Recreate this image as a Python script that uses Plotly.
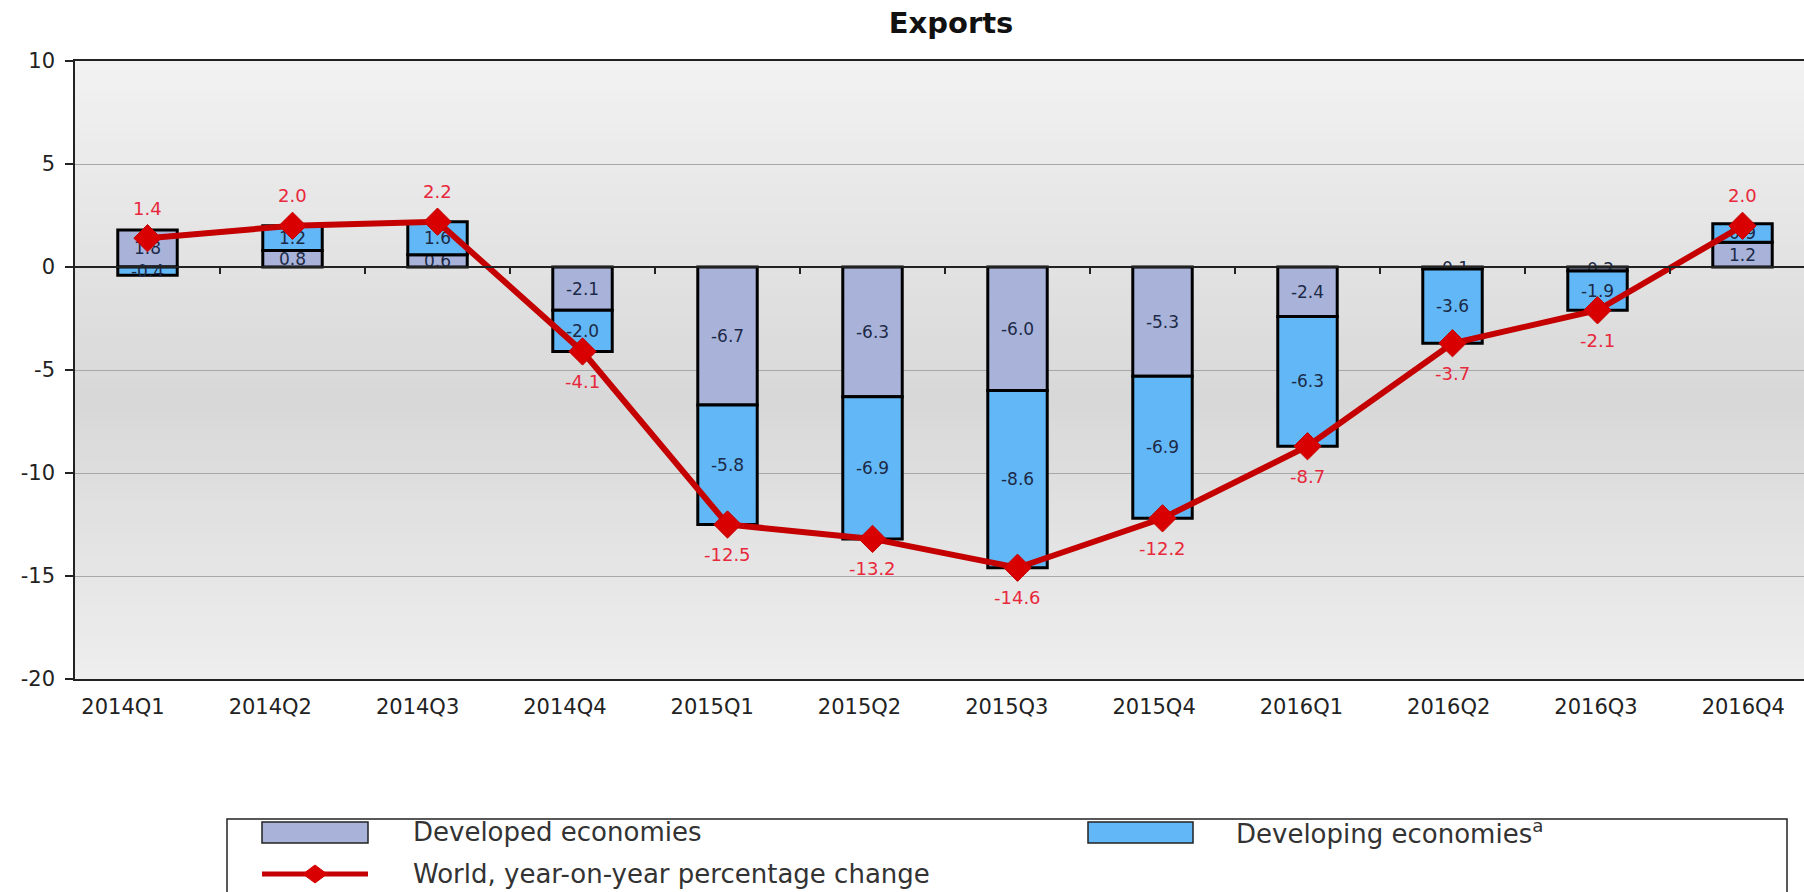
import plotly.graph_objects as go

# Quarterly export growth, percentage-point contributions
quarters = ["2014Q1", "2014Q2", "2014Q3", "2014Q4",
            "2015Q1", "2015Q2", "2015Q3", "2015Q4",
            "2016Q1", "2016Q2", "2016Q3", "2016Q4"]
developed = [1.8, 0.8, 0.6, -2.1, -6.7, -6.3, -6.0, -5.3, -2.4, -0.1, -0.2, 1.2]
developing = [-0.4, 1.2, 1.6, -2.0, -5.8, -6.9, -8.6, -6.9, -6.3, -3.6, -1.9, 0.9]
world = [1.4, 2.0, 2.2, -4.1, -12.5, -13.2, -14.6, -12.2, -8.7, -3.7, -2.1, 2.0]
y_ticks = [10, 5, 0, -5, -10, -15, -20]
y_tick_text = ["10", "5", "0", "-5", "-10", "-15", "-20"]

W, H = 1804, 892
L, T, B = 75, 61, 213          # plot margins in pixels
PLOT_W = W - L
PLOT_H = H - T - B
CAT_W = 145                    # pixel width of one quarter (bars)
LABEL_W = 147.3                # pixel spacing of the quarter labels
LABEL_X0 = 123                 # pixel centre of the first quarter label

FONT = "DejaVu Sans"
LABEL_DARK = "#1c2a48"
RED_TEXT = "#e8283c"
DEV_COLOR = "#a9b3d9"
DEVING_COLOR = "#62b8f7"


def px_x(px):
    return (px - L) / PLOT_W


def px_y(py):
    return (H - B - py) / PLOT_H


fig = go.Figure()

fig.add_trace(go.Bar(
    x=quarters, y=developed, name="Developed economies",
    marker=dict(color=DEV_COLOR, line=dict(color="black", width=3)),
    width=0.41, texttemplate="%{y:.1f}", textposition="inside",
    insidetextanchor="middle",
    textfont=dict(family=FONT, size=17, color=LABEL_DARK),
    showlegend=False, hoverinfo="skip",
))
fig.add_trace(go.Bar(
    x=quarters, y=developing, name="Developing economiesᵃ",
    marker=dict(color=DEVING_COLOR, line=dict(color="black", width=3)),
    width=0.41, texttemplate="%{y:.1f}", textposition="inside",
    insidetextanchor="middle",
    textfont=dict(family=FONT, size=17, color=LABEL_DARK),
    showlegend=False, hoverinfo="skip",
))
fig.add_trace(go.Scatter(
    x=quarters, y=world, name="World, year-on-year percentage change",
    mode="lines+markers",
    line=dict(color="#c40000", width=6),
    marker=dict(symbol="diamond", size=21, color="#d80000",
                line=dict(color="#c40000", width=1)),
    showlegend=False, hoverinfo="skip",
))
# invisible anchors for the zero-line tick axis and the label axis
fig.add_trace(go.Scatter(
    x=[0], y=[0], xaxis="x2", mode="markers",
    marker=dict(opacity=0), showlegend=False, hoverinfo="skip",
))
fig.add_trace(go.Scatter(
    x=[quarters[0]], y=[0], xaxis="x3", mode="markers",
    marker=dict(opacity=0), showlegend=False, hoverinfo="skip",
))

# world value labels
for q, v in zip(quarters, world):
    fig.add_annotation(
        x=q, y=v, text=f"{v:.1f}", showarrow=False,
        yshift=30 if v >= 0 else -30,
        font=dict(family=FONT, size=18, color=RED_TEXT),
    )

# plot-area background gradient
stops = [(0.0, (242, 242, 242)), (0.55, (216, 216, 216)), (1.0, (238, 238, 238))]
n_bands = 60


def shade(t):
    for (t0, c0), (t1, c1) in zip(stops[:-1], stops[1:]):
        if t0 <= t <= t1:
            f = (t - t0) / (t1 - t0)
            return tuple(round(a + (b - a) * f) for a, b in zip(c0, c1))
    return stops[-1][1]


for i in range(n_bands):
    top = 1 - i / n_bands
    bot = 1 - (i + 1) / n_bands
    r, g, b = shade((i + 0.5) / n_bands)
    fig.add_shape(type="rect", xref="paper", yref="paper",
                  x0=0, x1=1, y0=bot, y1=top + 0.002,
                  fillcolor=f"rgb({r},{g},{b})", line=dict(width=0),
                  layer="below")

# legend box
fig.add_shape(type="rect", xref="paper", yref="paper",
              x0=px_x(227), x1=px_x(1787), y0=px_y(905), y1=px_y(819),
              line=dict(color="#222222", width=1.5), fillcolor="white")
fig.add_shape(type="rect", xref="paper", yref="paper",
              x0=px_x(262), x1=px_x(368), y0=px_y(843), y1=px_y(822),
              line=dict(color="#222222", width=1.5), fillcolor=DEV_COLOR)
fig.add_shape(type="rect", xref="paper", yref="paper",
              x0=px_x(1088), x1=px_x(1193), y0=px_y(843), y1=px_y(822),
              line=dict(color="#222222", width=1.5), fillcolor=DEVING_COLOR)
fig.add_shape(type="line", xref="paper", yref="paper",
              x0=px_x(262), x1=px_x(368), y0=px_y(874), y1=px_y(874),
              line=dict(color="#c40000", width=5))
cx, cy, d = 315, 874, 12
fig.add_shape(type="path", xref="paper", yref="paper",
              path=(f"M {px_x(cx - d)},{px_y(cy)} L {px_x(cx)},{px_y(cy - d * 0.75)} "
                    f"L {px_x(cx + d)},{px_y(cy)} L {px_x(cx)},{px_y(cy + d * 0.75)} Z"),
              fillcolor="#d80000", line=dict(color="#d80000", width=1))

legend_texts = [
    (411, 832, "Developed economies"),
    (1234, 832, "Developing economies<sup>a</sup>"),
    (411, 874, "World, year-on-year percentage change"),
]
for lx, ly, txt in legend_texts:
    fig.add_annotation(xref="paper", yref="paper", x=px_x(lx), y=px_y(ly),
                       text=txt, showarrow=False, xanchor="left", yanchor="middle",
                       font=dict(family=FONT, size=26, color="#333333"))

x_range = [-0.5, -0.5 + PLOT_W / CAT_W]
label_start = -(LABEL_X0 - L) / LABEL_W
label_range = [label_start, label_start + PLOT_W / LABEL_W]

fig.update_layout(
    width=W, height=H,
    margin=dict(l=L, r=0, t=T, b=B),
    paper_bgcolor="white",
    plot_bgcolor="rgba(0,0,0,0)",
    barmode="relative",
    uniformtext=dict(minsize=17, mode="show"),
    title=dict(text="<b>Exports</b>", x=951 / W, xanchor="center",
               y=1 - 23 / H, yanchor="middle",
               font=dict(family=FONT, size=29, color="#111111")),
    xaxis=dict(
        type="category", categoryorder="array", categoryarray=quarters,
        range=x_range, showgrid=False, zeroline=False,
        showline=True, linecolor="#222222", linewidth=1.5, mirror=True,
        ticks="", showticklabels=False,
    ),
    xaxis2=dict(
        overlaying="x", anchor="free",
        position=(0 - min(y_ticks)) / (max(y_ticks) - min(y_ticks)),
        range=x_range, tickmode="array",
        tickvals=[i + 0.5 for i in range(len(quarters))],
        ticks="outside", ticklen=6, tickwidth=1.5, tickcolor="#222222",
        showticklabels=False, showline=True, linecolor="#222222", linewidth=1.5,
        showgrid=False, zeroline=False,
    ),
    xaxis3=dict(
        overlaying="x", anchor="y", side="bottom",
        type="category", categoryorder="array", categoryarray=quarters,
        range=label_range, showgrid=False, zeroline=False, showline=False,
        ticks="", ticklabelstandoff=13,
        tickfont=dict(family=FONT, size=21, color="#222222"),
    ),
    yaxis=dict(
        range=[min(y_ticks), max(y_ticks)], tickmode="array",
        tickvals=y_ticks, ticktext=y_tick_text,
        showgrid=True, gridcolor="#a8a8a8", gridwidth=1,
        zeroline=False, showline=True, linecolor="#222222", linewidth=1.5,
        ticks="outside", ticklen=8, tickwidth=1.5, tickcolor="#222222",
        ticklabelstandoff=6,
        tickfont=dict(family=FONT, size=21, color="#222222"),
    ),
)

fig.write_html("out.html")
